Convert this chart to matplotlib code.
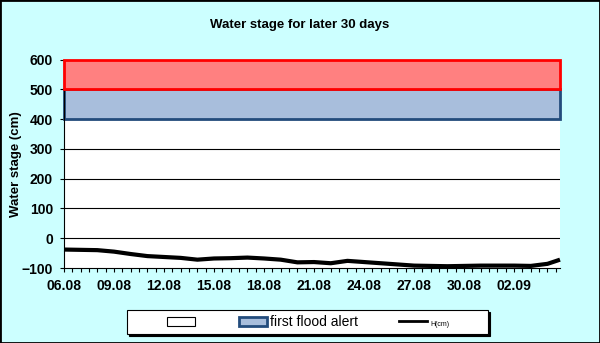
import matplotlib
matplotlib.use("Agg")

import matplotlib.pyplot as plt
import numpy as np
from matplotlib.patches import Rectangle
from matplotlib.lines import Line2D

plt.rcParams['font.family'] = ['Liberation Sans', 'DejaVu Sans']

# Daily water stage (cm), day 0 = 06.08
days = [0, 1, 2, 3, 4, 5, 6, 7, 8, 9, 10, 11, 12, 13, 14, 15, 16, 17, 18, 19,
        20, 21, 22, 23, 24, 25, 26, 27, 28, 29, 29.75]
stage = [-38, -39, -40, -45, -53, -60, -63, -66, -72, -68, -67, -65, -68, -72,
         -81, -80, -84, -76, -80, -84, -88, -92, -93, -94, -93, -92, -92, -92,
         -93, -86, -72]

# Alert levels (cm)
alert_first = (400, 500)
alert_second = (500, 600)

tick_days = [0, 3, 6, 9, 12, 15, 18, 21, 24, 27]
tick_labels = ["06.08", "09.08", "12.08", "15.08", "18.08", "21.08", "24.08",
               "27.08", "30.08", "02.09"]
y_ticks = [-100, 0, 100, 200, 300, 400, 500, 600]

bg = "#CCFFFF"
W, H = 600, 343
fig = plt.figure(figsize=(6, 3.43), dpi=100, facecolor=bg)
ax = fig.add_axes([64/W, 1-268/H, 496/W, 208.3/H])
ax.set_facecolor("white")

x_end = days[-1]
ax.set_xlim(0, x_end)
ax.set_ylim(-100, 600)

for yv in y_ticks[1:-1]:
    ax.axhline(yv, color="black", lw=0.8, zorder=1)

ax.add_patch(Rectangle((0, alert_first[0]), x_end, alert_first[1]-alert_first[0],
                       facecolor="#A8BEDC", edgecolor="#234C7C", lw=2, zorder=2,
                       clip_on=False))
ax.add_patch(Rectangle((0, alert_second[0]), x_end, alert_second[1]-alert_second[0],
                       facecolor="#FF8080", edgecolor="#FF0000", lw=2, zorder=3,
                       clip_on=False))

ax.plot(days, stage, color="black", lw=3, solid_capstyle="butt", zorder=4,
        clip_on=False)

ax.set_yticks(y_ticks)
ax.set_xticks(tick_days)
ax.set_xticklabels(tick_labels)
ax.set_xticks(np.arange(0, x_end, 0.5), minor=True)
ax.tick_params(axis="x", which="both", length=3, width=0.8, direction="out",
               labelsize=10, pad=5)
ax.tick_params(axis="y", length=3, width=0.8, direction="out", labelsize=10, pad=5)
for lab in ax.get_xticklabels() + ax.get_yticklabels():
    lab.set_fontweight("bold")
for s in ax.spines.values():
    s.set_linewidth(0.8)
ax.spines["top"].set_visible(False)
ax.spines["right"].set_visible(False)

ax.set_ylabel("Water stage (cm)", fontsize=9.5, fontweight="bold")
ax.yaxis.set_label_coords(-42/496, 0.5)
fig.text(0.5, 1-25/H, "Water stage for later 30 days", ha="center", va="center",
         fontsize=9.5, fontweight="bold")

# Legend box with drop shadow
fig.patches.append(Rectangle((129/W, 1-336/H), 361/W, 24/H, transform=fig.transFigure,
                             facecolor="black", edgecolor="black", lw=0.8))
fig.patches.append(Rectangle((127/W, 1-334/H), 361/W, 24/H, transform=fig.transFigure,
                             facecolor="white", edgecolor="black", lw=0.8))

handles = [
    Rectangle((0, 0), 1, 1, facecolor="white", edgecolor="black", lw=0.8),
    Rectangle((0, 0), 1, 1, facecolor="#A8BEDC", edgecolor="#234C7C", lw=2),
    Line2D([], [], color="black", lw=2),
]
leg = fig.legend(handles, ["", "first flood alert", "H(cm)"], ncol=3,
                 loc="center", bbox_to_anchor=(308/W, 1-322/H),
                 frameon=False, fontsize=10,
                 handlelength=2.0, handleheight=0.6, columnspacing=3,
                 borderpad=0.3, handletextpad=0.2)
leg.get_texts()[2].set_fontsize(5)

fig.patches.append(Rectangle((0, 0), 1, 1, transform=fig.transFigure,
                             facecolor="none", edgecolor="black", lw=2))

fig.savefig("out.png", dpi=100, facecolor=bg)
